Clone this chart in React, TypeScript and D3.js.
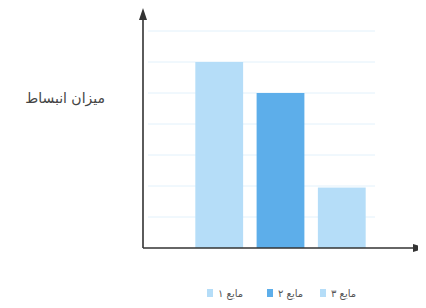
import React from "react";
import * as d3 from "d3";

const categories = ["مایع ۱", "مایع ۲", "مایع ۳"];
const values = [6, 5, 1.95];
const colors = ["#b5ddf8", "#5daeea", "#b5ddf8"];
const gridValues = [1, 2, 3, 4, 5, 6, 7];
const yLabel = "میزان انبساط";

const W = 426;
const H = 308;

export default function App() {
  const x0 = 143;
  const yBase = 248;
  const y = d3.scaleLinear().domain([0, 8]).range([yBase, 0]);
  const x = d3
    .scaleBand<string>()
    .domain(categories)
    .range([180, 381])
    .paddingInner(0.22)
    .paddingOuter(0.25);

  const legendX = [207, 267, 320];
  return (
    <div style={{ margin: -8 }}>
      <svg width={W} height={H} style={{ display: "block", background: "#fff" }}>
        {gridValues.map((v) => (
          <line
            key={v}
            x1={148}
            x2={375}
            y1={y(v)}
            y2={y(v)}
            stroke="#e2f1fb"
            strokeWidth={1}
          />
        ))}
        <line x1={240} x2={365} y1={y(7.8)} y2={y(7.8)} stroke="#eaf5fc" strokeWidth={1} />
        {categories.map((c, i) => (
          <rect
            key={c}
            x={x(c)}
            y={y(values[i])}
            width={x.bandwidth()}
            height={yBase - y(values[i])}
            fill={colors[i]}
          />
        ))}
        <line x1={x0} x2={x0} y1={yBase} y2={16} stroke="#333" strokeWidth={1.6} />
        <path d={`M${x0 - 4},${20} L${x0},${8} L${x0 + 4},${20} Z`} fill="#333" />
        <line x1={x0} x2={416} y1={yBase} y2={yBase} stroke="#333" strokeWidth={1.6} />
        <path d={`M${413},${yBase - 4} L${426},${yBase} L${413},${yBase + 4} Z`} fill="#333" />
        <text
          x={105}
          y={103}
          textAnchor="end"
          fontFamily="DejaVu Sans"
          fontSize={14}
          fill="#444"
        >
          {yLabel}
        </text>
        {categories.map((c, i) => (
          <g key={"l" + c}>
            <rect x={legendX[i]} y={289} width={6} height={8} fill={colors[i]} />
            <text
              x={legendX[i] + 11}
              y={297}
              fontFamily="DejaVu Sans"
              fontSize={10}
              fill="#555"
              textAnchor="start"
            >
              {c}
            </text>
          </g>
        ))}
      </svg>
    </div>
  );
}
